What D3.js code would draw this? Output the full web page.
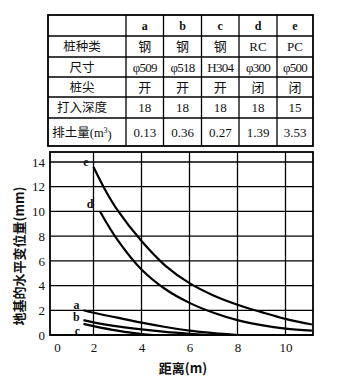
<!DOCTYPE html>
<html><head><meta charset="utf-8">
<script src="https://cdn.jsdelivr.net/npm/d3@7"></script>
<style>
body{margin:0;background:#fff;}
svg{display:block;}
</style></head>
<body>
<svg id="chart" width="345" height="380"></svg>
<script>
// ---- table data ----
const pileLabels = ['a','b','c','d','e'];
const rowHeaders = ['桩种类','尺寸','桩尖','打入深度','排土量(m³)'];
const pileType = ['钢','钢','钢','RC','PC'];
const pileSize = ['φ509','φ518','H304','φ300','φ500'];
const pileTip = ['开','开','开','闭','闭'];
const driveDepth = ['18','18','18','18','15'];
const soilVolume = ['0.13','0.36','0.27','1.39','3.53'];

// ---- chart data: [distance (m), displacement (mm)] ----
const seriesE = [[2.0,13.6],[2.5,11.7],[3,10.1],[4,7.6],[5,5.6],[6,4.2],[7,3.2],[8,2.45],[9,1.85],[10,1.3],[11.1,0.85]];
const seriesD = [[2.27,10.0],[3,7.7],[4,5.3],[5,3.7],[6,2.6],[7,1.8],[8,1.2],[9,0.8],[10,0.52],[11.1,0.35]];
const seriesA = [[1.45,2.0],[2,1.8],[3,1.4],[4,1.0],[5,0.65],[6,0.35],[7,0.15],[8,0]];
const seriesB = [[1.45,1.2],[2,1.02],[3,0.7],[4,0.45],[5,0.25],[6,0.1],[6.8,0]];
const seriesC = [[1.45,0.9],[2,0.72],[3,0.35],[4,0.07],[4.5,0]];
const xTicks = [0,2,4,6,8,10];
const yTicks = [0,2,4,6,8,10,12,14];

const svg = d3.select('#chart');
const serif = '"Liberation Serif","DejaVu Serif",serif';
const cjk = '"Noto Sans CJK SC",sans-serif';

// ---- table ----
const colEdges = [48,126,163.5,201.5,239,277,313];
const rowEdges = [15,36,57,77,97,118,146];
const tg = svg.append('g');
tg.append('rect').attr('x',colEdges[0]).attr('y',rowEdges[0])
  .attr('width',colEdges[6]-colEdges[0]).attr('height',rowEdges[6]-rowEdges[0])
  .attr('fill','none').attr('stroke','#000').attr('stroke-width',1.8);
colEdges.slice(1,-1).forEach(x=>tg.append('line').attr('x1',x).attr('x2',x)
  .attr('y1',rowEdges[0]).attr('y2',rowEdges[6]).attr('stroke','#000').attr('stroke-width',1.3));
rowEdges.slice(1,-1).forEach(y=>tg.append('line').attr('y1',y).attr('y2',y)
  .attr('x1',colEdges[0]).attr('x2',colEdges[6]).attr('stroke','#000').attr('stroke-width',1.3));

const rows = [pileLabels,pileType,pileSize,pileTip,driveDepth,soilVolume];
rows.forEach((row,ri)=>{
  const cy = (rowEdges[ri]+rowEdges[ri+1])/2;
  if(ri>0){
    const t = tg.append('text').attr('x',82).attr('y',cy).attr('dy','0.36em')
      .attr('text-anchor','middle').attr('font-family',cjk).attr('font-size',12.5).attr('fill','#111');
    const h = rowHeaders[ri-1];
    if(h.indexOf('(')>=0){
      t.append('tspan').text('排土量');
      t.append('tspan').attr('font-family',serif).text('(m');
      t.append('tspan').attr('font-family',serif).attr('font-size',8).attr('dy','-0.5em').text('3');
      t.append('tspan').attr('font-family',serif).attr('dy','0.5em').text(')');
    } else t.text(h);
  }
  row.forEach((v,ci)=>{
    const cx = (colEdges[ci+1]+colEdges[ci+2])/2;
    const isCjk = /[\u4e00-\u9fff]/.test(v);
    tg.append('text').attr('x',cx).attr('y',cy).attr('dy','0.36em')
      .attr('text-anchor','middle')
      .attr('font-family',isCjk?cjk:serif)
      .attr('font-size', ri===0?12:13)
      .attr('font-weight', ri===0?'bold':'normal')
      .attr('letter-spacing', ri===2?-0.7:0)
      .attr('fill','#111').text(v);
  });
});

// ---- plot ----
const L=50,R=313,T=152,B=335;
const x = d3.scaleLinear().domain([0,2,10]).range([57,93.5,285.5]);
const y = d3.scaleLinear().domain([0,14]).range([B,162]);
const pg = svg.append('g');
yTicks.forEach(v=>pg.append('line').attr('x1',L).attr('x2',R).attr('y1',y(v)).attr('y2',y(v))
  .attr('stroke','#000').attr('stroke-width',1.3));
xTicks.filter(v=>v>0).forEach(v=>pg.append('line').attr('x1',x(v)).attr('x2',x(v)).attr('y1',T).attr('y2',B)
  .attr('stroke','#000').attr('stroke-width',1.3));
pg.append('rect').attr('x',L).attr('y',T).attr('width',R-L).attr('height',B-T)
  .attr('fill','none').attr('stroke','#000').attr('stroke-width',1.8);

// axes labels via d3 axes
const xAxis = d3.axisBottom(x).tickValues(xTicks).tickSize(0).tickPadding(8).tickFormat(d3.format('d'));
const gx = svg.append('g').attr('transform',`translate(0,${B})`).call(xAxis);
gx.select('.domain').remove();
gx.selectAll('text').attr('font-family',serif).attr('font-size',13).attr('fill','#111');

const yAxis = d3.axisLeft(y).tickValues(yTicks).tickSize(0).tickPadding(5).tickFormat(d3.format('d'));
const gy = svg.append('g').attr('transform',`translate(${L},0)`).call(yAxis);
gy.select('.domain').remove();
gy.selectAll('text').attr('font-family',serif).attr('font-size',13).attr('fill','#111');

// curves
const line = d3.line().x(d=>x(d[0])).y(d=>y(d[1])).curve(d3.curveCatmullRom.alpha(0.5));
[seriesE,seriesD,seriesA,seriesB,seriesC].forEach(s=>{
  pg.append('path').attr('d',line(s)).attr('fill','none').attr('stroke','#000').attr('stroke-width',2.2);
});

// curve labels
const curveLabels = [['e',seriesE,-7.5,-5],['d',seriesD,-10,-8],['a',seriesA,-7,-6],['b',seriesB,-7,-3],['c',seriesC,-6,6.5]];
curveLabels.forEach(([lab,s,dx,dy])=>{
  pg.append('text').attr('x',x(s[0][0])+dx).attr('y',y(s[0][1])+dy).attr('dy','0.36em')
    .attr('text-anchor','middle').attr('font-family',serif).attr('font-size',12).attr('font-weight','bold')
    .attr('fill','#111').text(lab);
});

// axis titles
svg.append('text').attr('transform','translate(19,256) rotate(-90)').attr('text-anchor','middle')
  .attr('dy','0.36em').attr('font-family',cjk).attr('font-size',13).attr('font-weight','bold').attr('fill','#111')
  .text('地基的水平变位量(mm)');
svg.append('text').attr('x',183).attr('y',368).attr('dy','0.36em').attr('text-anchor','middle')
  .attr('font-family',cjk).attr('font-size',13).attr('font-weight','bold').attr('fill','#111')
  .text('距离(m)');
</script>
</body></html>
